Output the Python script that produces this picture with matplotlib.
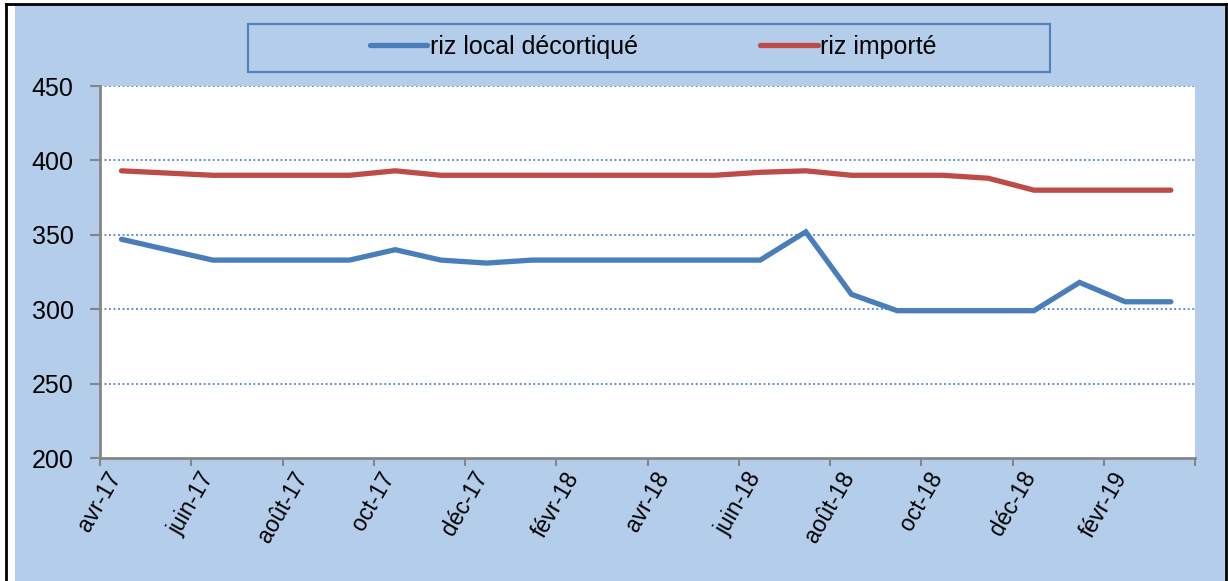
import matplotlib
matplotlib.use('Agg')
import matplotlib.pyplot as plt
from matplotlib.patches import Rectangle
from matplotlib.lines import Line2D

W, H = 1228, 581
bg = '#B3CDEA'
c_local = '#4A7EBB'
c_import = '#BE4B48'
font = ['Liberation Sans', 'DejaVu Sans']

# monthly prices, avr-17 .. mars-19
riz_local = [347, 340, 333, 333, 333, 333, 340, 333, 331, 333, 333, 333,
             333, 333, 333, 352, 310, 299, 299, 299, 299, 318, 305, 305]
riz_importe = [393, 391.5, 390, 390, 390, 390, 393, 390, 390, 390, 390, 390,
               390, 390, 392, 393, 390, 390, 390, 388, 380, 380, 380, 380]
tick_labels = ['avr-17', 'juin-17', 'août-17', 'oct-17', 'déc-17', 'févr-18',
               'avr-18', 'juin-18', 'août-18', 'oct-18', 'déc-18', 'févr-19', '']
y_ticks = [200, 250, 300, 350, 400, 450]


def main():
    fig = plt.figure(figsize=(W / 100, H / 100), dpi=100, facecolor='white')

    # background panel and frame
    fig.patches.append(Rectangle((15 / W, 0), (1225 - 15) / W, 1 - 5 / H,
                                 transform=fig.transFigure, facecolor=bg,
                                 edgecolor='none', zorder=-2))
    for xs, ys in [([6 / W, 6 / W], [0, 1 - 4 / H]),
                   ([6 / W, 1226 / W], [1 - 4 / H, 1 - 4 / H]),
                   ([1226 / W, 1226 / W], [0, 1 - 4 / H])]:
        fig.lines.append(Line2D(xs, ys, transform=fig.transFigure,
                                color='black', lw=2.0, zorder=-1))

    ax = fig.add_axes([100 / W, 1 - 458 / H, (1195 - 100) / W, (458 - 86) / H])
    ax.set_zorder(1)
    ax.set_facecolor('white')

    x = [i + 0.47 for i in range(len(riz_local))]
    ax.plot(x, riz_local, color=c_local, lw=3.8, solid_capstyle='round',
            solid_joinstyle='miter', label='riz local décortiqué', zorder=3)
    ax.plot(x, riz_importe, color=c_import, lw=3.8, solid_capstyle='round',
            solid_joinstyle='miter', label='riz importé', zorder=3)

    ax.set_xlim(0, 24)
    ax.set_ylim(200, 450)
    ax.set_xticks(range(0, 25, 2))
    ax.set_xticklabels(tick_labels, rotation=60, ha='center', va='top',
                       family=font, fontsize=16.5)
    ax.set_yticks(y_ticks)
    ax.set_yticklabels([str(v) for v in y_ticks], family=font, fontsize=18)

    for v in y_ticks[1:]:
        ax.axhline(v, color='#4F81BD', lw=1.3, ls=(0, (1, 1.5)), zorder=1)

    for s in ['top', 'right']:
        ax.spines[s].set_visible(False)
    for s in ['left', 'bottom']:
        ax.spines[s].set_color('#868686')
        ax.spines[s].set_linewidth(2)
    ax.tick_params(axis='y', length=7, width=1.5, color='#868686', pad=12)
    ax.tick_params(axis='x', length=6, width=1.5, color='#868686', pad=1)

    # legend box
    fig.patches.append(Rectangle((248 / W, 1 - 72 / H), 802 / W, 48 / H,
                                 transform=fig.transFigure, facecolor=bg,
                                 edgecolor='#4F81BD', lw=1.5, zorder=2))
    leg = fig.legend(loc='center', bbox_to_anchor=(653 / W, 1 - 47 / H),
                     ncol=2, frameon=False, handlelength=2.3, handletextpad=0.1,
                     columnspacing=4.9, prop={'family': font, 'size': 18})
    leg.set_zorder(3)

    plt.savefig('out.png', dpi=100, facecolor='white')
    plt.close()


if __name__ == "__main__":
    main()
